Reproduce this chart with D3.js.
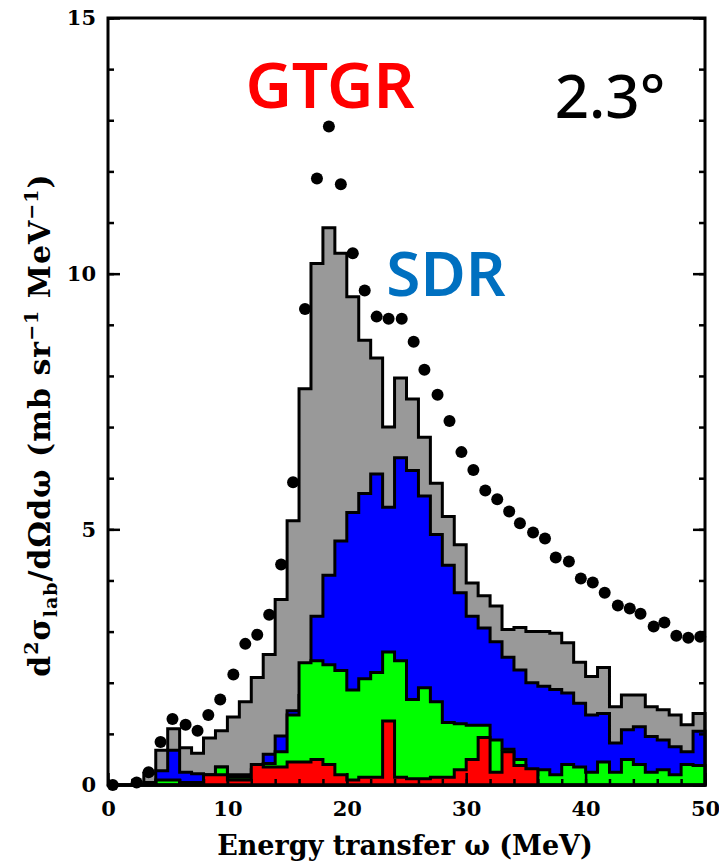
<!DOCTYPE html>
<html>
<head>
<meta charset="utf-8">
<script src="https://cdn.jsdelivr.net/npm/d3@7"></script>
<style>
  body { margin: 0; background: #fff; }
  svg text { font-family: "DejaVu Serif", serif; font-weight: bold; }
</style>
</head>
<body>
<div id="chart"></div>
<script>
// bin edges are 0..50 MeV, 1 MeV wide; each array is the cumulative top of that layer
var total = [0,0,0,0.23,0.68,1.1,0.73,0.62,0.92,1.06,1.33,1.63,2.1,2.55,3.63,5.17,7.75,10.2,10.9,10.4,
  9.55,8.7,8.35,7.0,7.96,7.55,6.8,5.9,5.25,4.7,3.95,3.7,3.5,3.04,3.08,3.0,3.0,2.97,2.78,2.4,
  2.12,2.3,1.53,1.76,1.76,1.53,1.47,1.37,1.18,1.4];
var sdr = [0,0,0,0.05,0.28,0.68,0.25,0.22,0.2,0.35,0.2,0.2,0.3,0.6,0.96,1.45,1.75,3.3,4.1,4.77,
  5.33,5.7,6.08,5.43,6.4,6.15,5.65,4.9,4.3,3.76,3.3,3.07,2.8,2.5,2.25,2.0,1.93,1.87,1.8,1.6,
  1.37,1.4,0.82,1.08,1.14,0.95,0.88,0.75,0.65,1.05];
var other = [0,0,0,0,0.1,0.1,0.05,0.05,0.1,0.35,0.15,0.15,0.2,0.42,0.65,1.37,2.39,2.43,2.35,2.24,
  1.86,2.08,2.2,2.6,2.43,1.67,1.9,1.63,1.22,1.2,1.17,1.17,0.88,0.7,0.5,0.2,0.3,0.2,0.4,0.35,
  0.25,0.45,0.25,0.5,0.4,0.25,0.3,0.2,0.4,0.38];
var gtgr = [0,0,0,0,0,0,0.05,0,0.2,0.2,0.1,0.1,0.4,0.35,0.35,0.45,0.45,0.5,0.4,0.2,
  0.1,0.15,0.15,1.25,0.15,0.12,0.12,0.15,0.15,0.3,0.5,0.93,0.25,0.65,0.38,0.32,0,0,0,0,
  0,0,0,0,0,0,0,0,0,0];

var dataX = [0.4,2.4,3.4,4.4,5.4,6.5,7.5,8.4,9.4,10.5,11.5,12.5,13.5,14.5,15.5,16.5,17.5,18.5,19.5,
  20.5,21.5,22.5,23.5,24.6,25.6,26.5,27.6,28.6,29.6,30.6,31.6,32.6,33.6,34.5,35.6,36.6,37.5,38.6,
  39.6,40.6,41.6,42.7,43.7,44.6,45.7,46.6,47.6,48.6,49.6];
var dataY = [0,0.05,0.25,0.84,1.29,1.18,1.06,1.37,1.67,2.16,2.76,2.94,3.33,4.31,5.92,9.31,11.86,12.88,11.75,
  10.4,9.67,9.16,9.12,9.12,8.67,8.12,7.63,7.12,6.51,6.16,5.76,5.59,5.35,5.12,4.94,4.82,4.45,4.37,
  4.04,3.96,3.76,3.51,3.45,3.35,3.1,3.18,2.92,2.88,2.9];

var xTicks = [0,10,20,30,40,50];
var yTicks = [0,5,10,15];

var W = 719, H = 865;
var L = 108, R = 705, T = 18, B = 785;

var svg = d3.select('#chart').append('svg').attr('width', W).attr('height', H);
var x = d3.scaleLinear().domain([0, 50]).range([L, R]);
var y = d3.scaleLinear().domain([0, 15]).range([B, T]);

function steps(vals) {
  var pts = vals.map(function(v, i){ return [i, v]; });
  pts.push([vals.length, vals[vals.length - 1]]);
  return pts;
}
var area = d3.area().curve(d3.curveStepAfter)
  .x(function(d){ return x(d[0]); }).y0(y(0)).y1(function(d){ return y(d[1]); });

var layers = [[total,'#999999'],[sdr,'#0000ff'],[other,'#00ff00'],[gtgr,'#ff0000']];
layers.forEach(function(l){
  svg.append('path').attr('d', area(steps(l[0])))
    .attr('fill', l[1]).attr('stroke', '#000').attr('stroke-width', 3)
    .attr('stroke-linejoin', 'miter');
});

svg.selectAll('.dot').data(dataX).enter().append('circle')
  .attr('cx', function(d){ return x(d); })
  .attr('cy', function(d, i){ return y(dataY[i]); })
  .attr('r', 6).attr('fill', '#000');

// frame with inward ticks
svg.append('rect').attr('x', L).attr('y', T).attr('width', R - L).attr('height', B - T)
  .attr('fill', 'none').attr('stroke', '#000').attr('stroke-width', 3);

var axB = svg.append('g').attr('transform', 'translate(0,' + B + ')')
  .call(d3.axisBottom(x).tickValues(xTicks).tickSize(-12).tickPadding(16));
var axBm = svg.append('g').attr('transform', 'translate(0,' + B + ')')
  .call(d3.axisBottom(x).tickValues(d3.range(0, 51, 2)).tickSize(-6).tickFormat(''));
var axL = svg.append('g').attr('transform', 'translate(' + L + ',0)')
  .call(d3.axisLeft(y).tickValues(yTicks).tickSize(-12).tickPadding(12));
var axLm = svg.append('g').attr('transform', 'translate(' + L + ',0)')
  .call(d3.axisLeft(y).tickValues(d3.range(0, 16, 1)).tickSize(-6).tickFormat(''));
var axR = svg.append('g').attr('transform', 'translate(' + R + ',0)')
  .call(d3.axisRight(y).tickValues(yTicks).tickSize(-12).tickFormat(''));
var axRm = svg.append('g').attr('transform', 'translate(' + R + ',0)')
  .call(d3.axisRight(y).tickValues(d3.range(0, 16, 1)).tickSize(-6).tickFormat(''));
[axB, axBm, axL, axLm, axR, axRm].forEach(function(g){
  g.select('.domain').remove();
  g.selectAll('line').attr('stroke-width', 2.5);
  g.selectAll('text').attr('font-size', 21).attr('fill', '#000')
    .style('font-family', '"DejaVu Serif", serif').style('font-weight', 'bold');
});

svg.append('text').attr('x', 405).attr('y', 855).attr('text-anchor', 'middle')
  .attr('font-size', 27).text('Energy transfer \u03C9 (MeV)');

var yl = svg.append('text').attr('transform', 'translate(50,425) rotate(-90)')
  .attr('text-anchor', 'middle').attr('font-size', 30).attr('letter-spacing', 1);
yl.append('tspan').text('d');
yl.append('tspan').attr('font-size', 19).attr('dy', -12).text('2');
yl.append('tspan').attr('dy', 12).text('\u03C3');
yl.append('tspan').attr('font-size', 19).attr('dy', 7).text('lab');
yl.append('tspan').attr('dy', -7).text('/d\u03A9d\u03C9 (mb sr');
yl.append('tspan').attr('font-size', 19).attr('dy', -12).text('\u22121');
yl.append('tspan').attr('dy', 12).text(' MeV');
yl.append('tspan').attr('font-size', 19).attr('dy', -12).text('\u22121');
yl.append('tspan').attr('dy', 12).text(')');

var lab = [['GTGR', 330, 108, '#ff0000', 64], ['SDR', 446, 296, '#0070c0', 62], ['2.3\u00B0', 610, 118, '#000', 60]];
lab.forEach(function(t){
  svg.append('text').attr('x', t[1]).attr('y', t[2]).attr('text-anchor', 'middle')
    .attr('fill', t[3]).attr('font-size', t[4])
    .style('font-family', '"Noto Sans", sans-serif').style('font-weight', t[0] === '2.3\u00B0' ? '500' : '600')
    .text(t[0]);
});
</script>
</body>
</html>
